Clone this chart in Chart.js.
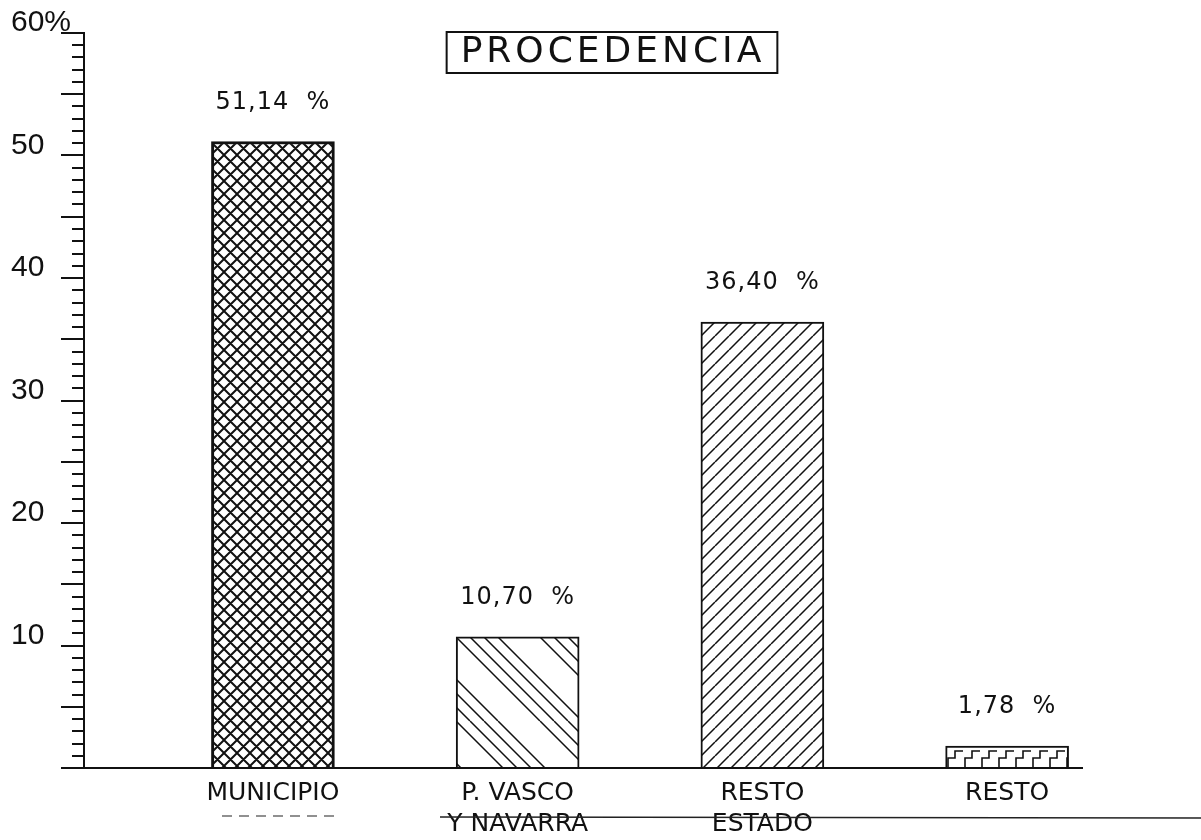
<!DOCTYPE html>
<html><head><meta charset="utf-8">
<script src="https://cdn.jsdelivr.net/npm/chart.js@4.4.1/dist/chart.umd.min.js"></script>
<style>html,body{margin:0;padding:0;background:#fff;}canvas{display:block;}</style>
</head><body>
<canvas id="c" width="1201" height="840"></canvas>
<script>
// ---- data ----
const titleText = 'PROCEDENCIA';
const categories = [['MUNICIPIO'], ['P. VASCO', 'Y NAVARRA'], ['RESTO', 'ESTADO'], ['RESTO']];
const values = [51.14, 10.70, 36.40, 1.78];
const positions = [1, 2, 3, 4];
const yTickValues = [10, 20, 30, 40, 50, 60];
const yTickLabels = ['10', '20', '30', '40', '50', '60%'];

const INK = '#111';
const canvas = document.getElementById('c');
const ctx = canvas.getContext('2d');

function makeTile(w, h, draw) {
  const c = document.createElement('canvas');
  c.width = w; c.height = h;
  const g = c.getContext('2d');
  g.fillStyle = '#fff'; g.fillRect(0, 0, w, h);
  g.strokeStyle = INK; g.lineCap = 'butt';
  draw(g, w, h);
  return ctx.createPattern(c, 'repeat');
}
const crossPat = makeTile(13, 13, (g, w, h) => {
  g.lineWidth = 2; g.beginPath();
  for (let k = -1; k <= 1; k++) {
    g.moveTo(k * w, 0); g.lineTo(k * w + w, h);
    g.moveTo(k * w + w, 0); g.lineTo(k * w, h);
  }
  g.stroke();
});
const backPat = makeTile(84, 84, (g, w, h) => {
  g.lineWidth = 1.5; g.beginPath();
  [0, 14, 28, 42].forEach(c => {
    for (let k = -1; k <= 1; k++) { g.moveTo(c + k * w, 0); g.lineTo(c + k * w + w, h); }
  });
  g.stroke();
});
const slashPat = makeTile(14, 14, (g, w, h) => {
  g.lineWidth = 1.5; g.beginPath();
  for (let k = -1; k <= 1; k++) { g.moveTo(k * w, h); g.lineTo(k * w + w, 0); }
  g.stroke();
});
const stairPat = makeTile(17, 22, (g, w, h) => {
  g.lineWidth = 1.6; g.beginPath();
  g.moveTo(2, 22); g.lineTo(2, 12); g.lineTo(9, 12); g.lineTo(9, 5); g.lineTo(17, 5);
  g.stroke();
});
const patterns = [crossPat, backPat, slashPat, stairPat];

const titleFix = {
  id: 'titleFix',
  afterLayout(chart) {
    const tb = chart.titleBlock;
    if (!tb) return;
    const h = tb.bottom - tb.top;
    const cx = 613;
    tb.top = 31; tb.bottom = 31 + h;
    tb.left = cx - 300; tb.right = cx + 300; tb.width = 600;
    if (!tb._wrapped) {
      const orig = tb.draw;
      tb.draw = function (...a) {
        const c = this.ctx; c.save(); c.letterSpacing = '4px'; orig.apply(this, a); c.restore();
      };
      tb._wrapped = true;
    }
  },
  afterDraw(chart) {
    const tb = chart.titleBlock;
    const c = chart.ctx;
    c.save();
    c.font = '36px "DejaVu Sans"';
    c.letterSpacing = '4px';
    const w = c.measureText(titleText).width;
    const cx = (tb.left + tb.right) / 2;
    c.strokeStyle = INK; c.lineWidth = 2;
    c.strokeRect(cx - w / 2 - 14, tb.top + 1, w + 26, 41);
    c.restore();
  }
};

const patternAlign = {
  id: 'patternAlign',
  beforeDatasetsDraw(chart) {
    chart.getDatasetMeta(0).data.forEach((el, i) => {
      const p = patterns[i];
      if (p && p.setTransform) p.setTransform(new DOMMatrix([1, 0, 0, 1, Math.round(el.x - el.width / 2), Math.round(el.y)]));
    });
  }
};

const valueLabels = {
  id: 'valueLabels',
  afterDatasetsDraw(chart) {
    const c = chart.ctx;
    c.save();
    c.font = '24px "DejaVu Sans"';
    c.fillStyle = INK; c.textAlign = 'center'; c.textBaseline = 'middle';
    c.letterSpacing = '1px';
    chart.getDatasetMeta(0).data.forEach((el, i) => {
      c.fillText(values[i].toFixed(2).replace('.', ',') + '  %', el.x, el.y - 39);
    });
    c.restore();
  }
};

const scanMarks = {
  id: 'scanMarks',
  afterDraw(chart) {
    const c = chart.ctx;
    c.save();
    c.strokeStyle = '#222'; c.lineWidth = 1.5;
    c.beginPath(); c.moveTo(440, 817); c.lineTo(1201, 818); c.stroke();
    c.setLineDash([10, 7]); c.lineWidth = 1.2;
    c.beginPath(); c.moveTo(222, 816); c.lineTo(335, 816); c.stroke();
    c.restore();
  }
};

new Chart(ctx, {
  type: 'bar',
  data: {
    datasets: [{
      data: values.map((v, i) => ({ x: positions[i], y: v })),
      backgroundColor: patterns,
      borderColor: INK,
      borderWidth: [3, 2, 2, 2],
      borderSkipped: 'bottom',
      barThickness: 123
    }]
  },
  options: {
    responsive: false,
    animation: false,
    devicePixelRatio: 1,
    layout: { padding: { left: 11, right: 119, top: -10.2, bottom: 0 } },
    plugins: {
      legend: { display: false },
      tooltip: { enabled: false },
      title: {
        display: true, text: titleText, color: INK,
        font: { family: 'DejaVu Sans', size: 36, weight: 'normal', lineHeight: 1.2 },
        padding: { top: 0, bottom: 0 }
      }
    },
    scales: {
      x: {
        type: 'linear', position: 'bottom', min: 0.228, max: 4.306, bounds: 'data', offset: false,
        grid: { display: false, drawTicks: false, offset: false },
        border: { display: true, color: INK, width: 2 },
        afterBuildTicks: s => { s.ticks = positions.map(p => ({ value: p })); },
        afterFit: s => { s.height = 72; },
        ticks: {
          autoSkip: false, maxRotation: 0, minRotation: 0, padding: 10, color: INK,
          font: { family: 'DejaVu Sans', size: 25, lineHeight: 1.25 },
          callback: v => { const i = positions.indexOf(v); return i >= 0 ? categories[i] : ''; }
        }
      },
      y: {
        type: 'linear', position: 'left', weight: 0, min: 0, max: 60,
        ticks: { display: false, stepSize: 1, autoSkip: false, maxTicksLimit: 100 },
        grid: { drawOnChartArea: false, drawTicks: true, tickLength: 12, color: INK, lineWidth: 2 },
        border: { display: true, color: INK, width: 2 },
        afterFit: s => { s.width = 12; }
      },
      y5: {
        type: 'linear', position: 'left', weight: 1, min: 0, max: 60,
        ticks: {
          stepSize: 5, autoSkip: false, maxTicksLimit: 100, crossAlign: 'far', labelOffset: -10,
          padding: 0, color: INK, font: { family: 'Liberation Sans', size: 30 },
          callback: v => { const i = yTickValues.indexOf(v); return i >= 0 ? yTickLabels[i] : ''; }
        },
        grid: { drawOnChartArea: false, drawTicks: true, tickLength: 11, color: INK, lineWidth: 2 },
        border: { display: false },
        afterFit: s => { s.width = 84 - 12 - 11; }
      }
    }
  },
  plugins: [titleFix, patternAlign, valueLabels, scanMarks]
});
</script>
</body></html>
